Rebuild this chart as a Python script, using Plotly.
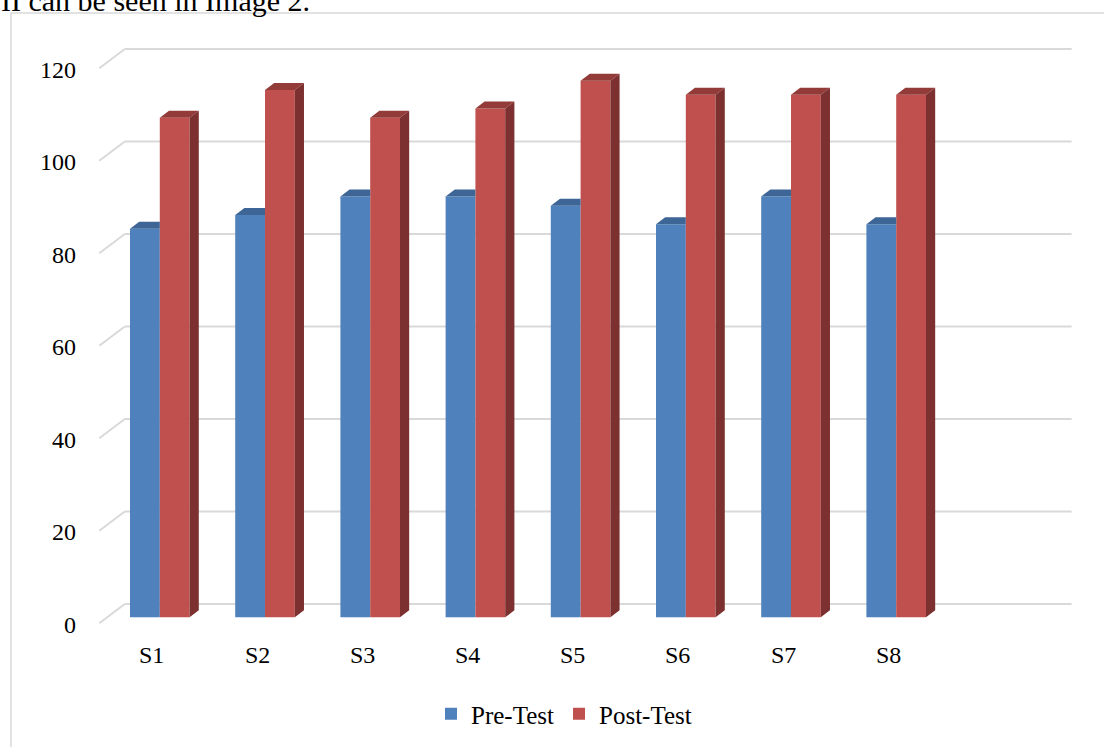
import plotly.graph_objects as go

# ---------------- data ----------------
categories = ["S1", "S2", "S3", "S4", "S5", "S6", "S7", "S8"]
pre_test = [84, 87, 91, 91, 89, 85, 91, 85]
post_test = [108, 114, 108, 110, 116, 113, 113, 113]
series_names = ["Pre-Test", "Post-Test"]
y_ticks = [0, 20, 40, 60, 80, 100, 120]
caption_text = "II can be seen in Image 2."

# ---------------- layout constants (pixels -> axis units) ----------------
W, H = 1104, 747
SX = 105.2          # pixels per category slot
SY = 4.625          # pixels per value unit
OX, OY = 99.3, 623.3  # pixel of front-left floor corner
N_SLOTS = len(categories) + 1  # Excel range includes one empty slot

DEPTH_X = 25.5 / SX   # full floor depth in axis units
DEPTH_Y = 19.3 / SY
BAR_FRONT = 0.31      # depth fraction of bar front faces
BAR_DEPTH = 0.36      # depth fraction occupied by a bar
BAR_W = 29.8 / SX
GAP = (1 - 2 * BAR_W) / 2

FONT = "Liberation Serif"
GRID = "#d9d9d9"
BLUE, BLUE_TOP = "#4f81bd", "#3d6595"
RED, RED_TOP, RED_SIDE = "#c0504d", "#923b38", "#7c302f"

fig = go.Figure()

base = BAR_FRONT * DEPTH_Y
shift = BAR_FRONT * DEPTH_X
bdx, bdy = BAR_DEPTH * DEPTH_X, BAR_DEPTH * DEPTH_Y

blue_x = [i + shift + GAP + BAR_W / 2 for i in range(len(categories))]
red_x = [i + shift + GAP + 1.5 * BAR_W for i in range(len(categories))]

fig.add_trace(go.Bar(x=blue_x, y=pre_test, base=base, width=BAR_W, name=series_names[0],
                     marker=dict(color=BLUE, line=dict(width=0)), hoverinfo="skip"))
fig.add_trace(go.Bar(x=red_x, y=post_test, base=base, width=BAR_W, name=series_names[1],
                     marker=dict(color=RED, line=dict(width=0)), hoverinfo="skip"))

# 3D faces
bt_x, bt_y, rt_x, rt_y, rs_x, rs_y = [], [], [], [], [], []
for i in range(len(categories)):
    xl = blue_x[i] - BAR_W / 2
    xr = blue_x[i] + BAR_W / 2
    top = base + pre_test[i]
    bt_x += [xl, xr, xr, xl + bdx, xl, None]
    bt_y += [top, top, top + bdy, top + bdy, top, None]
    xl2 = red_x[i] - BAR_W / 2
    xr2 = red_x[i] + BAR_W / 2
    top2 = base + post_test[i]
    rt_x += [xl2, xr2, xr2 + bdx, xl2 + bdx, xl2, None]
    rt_y += [top2, top2, top2 + bdy, top2 + bdy, top2, None]
    rs_x += [xr2, xr2, xr2 + bdx, xr2 + bdx, xr2, None]
    rs_y += [base, top2, top2 + bdy, base + bdy, base, None]

for xs, ys, col in [(bt_x, bt_y, BLUE_TOP), (rt_x, rt_y, RED_TOP), (rs_x, rs_y, RED_SIDE)]:
    fig.add_trace(go.Scatter(x=xs, y=ys, mode="lines", fill="toself", fillcolor=col,
                             line=dict(width=0, color=col), showlegend=False, hoverinfo="skip"))

# gridlines: diagonal on floor edge + back wall line
shapes = []
for v in y_ticks:
    shapes.append(dict(type="line", xref="x", yref="y", x0=0, y0=v, x1=DEPTH_X, y1=v + DEPTH_Y,
                       line=dict(color=GRID, width=2), layer="below"))
    shapes.append(dict(type="line", xref="x", yref="y", x0=DEPTH_X, y0=v + DEPTH_Y,
                       x1=DEPTH_X + N_SLOTS, y1=v + DEPTH_Y,
                       line=dict(color=GRID, width=2), layer="below"))
# chart area border
shapes.append(dict(type="rect", xref="paper", yref="paper", x0=11 / W, y0=-0.05, x1=1.05,
                   y1=1 - 13 / H, line=dict(color=GRID, width=1.5), layer="below"))

annotations = []
for v in y_ticks:
    annotations.append(dict(x=0, y=v, xref="x", yref="y", text=str(v), showarrow=False,
                            xanchor="right", yanchor="middle", xshift=-21, yshift=-1.5,
                            font=dict(family=FONT, size=24, color="#000000")))
for i, c in enumerate(categories):
    annotations.append(dict(x=i + 0.5, y=0, xref="x", yref="y", text=c, showarrow=False,
                            xanchor="center", yanchor="middle", yshift=-31.7,
                            font=dict(family=FONT, size=24, color="#000000")))
annotations.append(dict(x=0, y=1 - 18 / H, xref="paper", yref="paper", text=caption_text,
                        showarrow=False, xanchor="left", yanchor="bottom", borderpad=0,
                        font=dict(family=FONT, size=30, color="#000000")))

fig.update_layout(
    width=W, height=H,
    margin=dict(l=0, r=0, t=0, b=0),
    paper_bgcolor="white", plot_bgcolor="white",
    barmode="overlay",
    xaxis=dict(range=[-OX / SX, (W - OX) / SX], visible=False, fixedrange=True),
    yaxis=dict(range=[-(H - OY) / SY, OY / SY], visible=False, fixedrange=True),
    shapes=shapes,
    annotations=annotations,
    showlegend=True,
    legend=dict(orientation="h", x=564 / W, y=1 - 714 / H, xanchor="center", yanchor="middle",
                font=dict(family=FONT, size=25, color="#000000"), bgcolor="rgba(0,0,0,0)",
                traceorder="normal", itemsizing="constant", itemwidth=30),
)

fig.write_html("out.html", config={"displayModeBar": False},
               post_script="document.body.style.margin='0';document.body.style.overflow='hidden';")
